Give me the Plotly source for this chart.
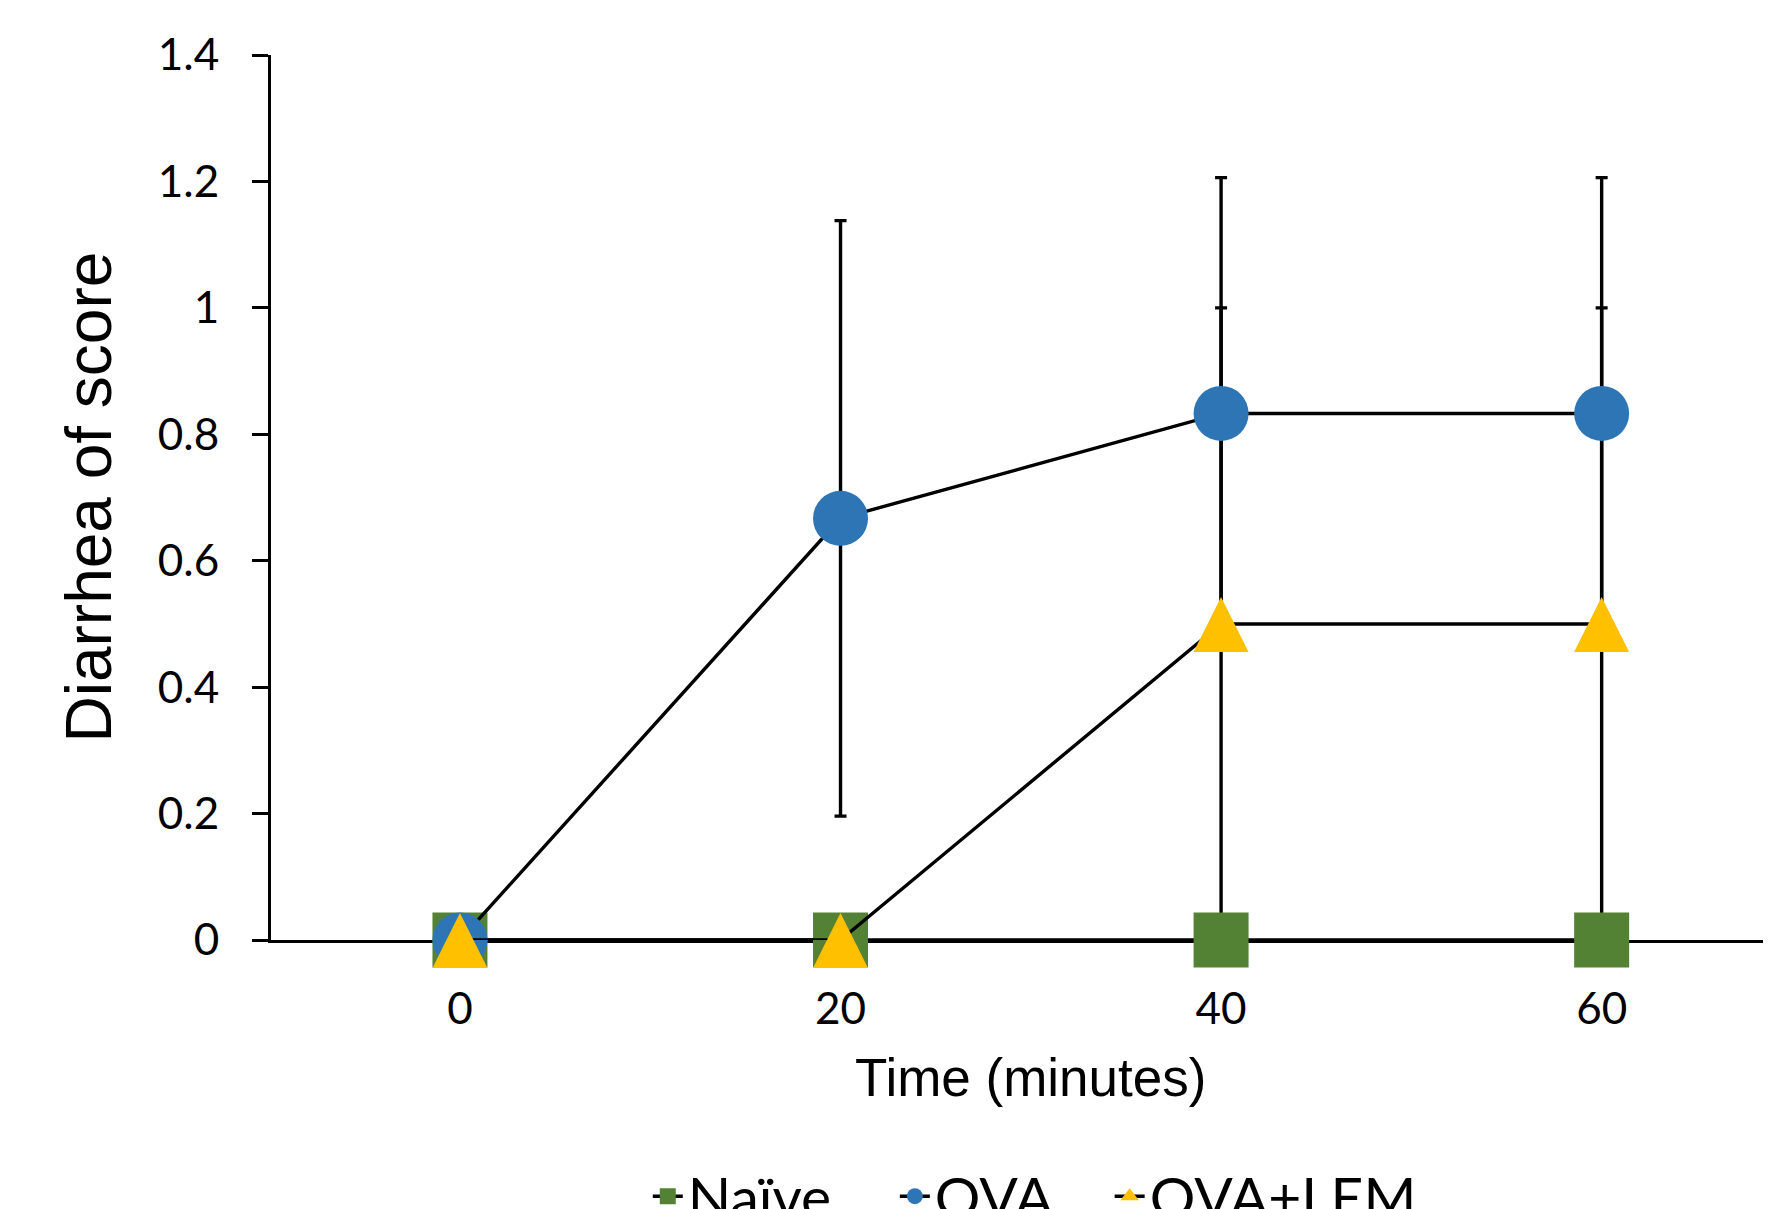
import plotly.graph_objects as go

# ---- data ----
time_min = [0, 20, 40, 60]
naive = [0, 0, 0, 0]
ova = [0, 0.667, 0.833, 0.833]
ova_err = [0, 0.471, 0.373, 0.373]
ova_lem = [0, 0, 0.5, 0.5]
ova_lem_err = [0, 0, 0.5, 0.5]

series_names = ["Naïve", "OVA", "OVA+LEM"]
x_tick_vals = [0, 20, 40, 60]
x_tick_labels = ["0", "20", "40", "60"]
y_tick_vals = [0, 0.2, 0.4, 0.6, 0.8, 1.0, 1.2, 1.4]
y_tick_labels = ["0", "0.2", "0.4", "0.6", "0.8", "1", "1.2", "1.4"]

GREEN = "#548235"
BLUE = "#2E75B6"
YELLOW = "#FFC000"

fig = go.Figure()

# error bars first so every marker sits above them
for vals, errs in [(ova, ova_err), (ova_lem, ova_lem_err)]:
    fig.add_trace(go.Scatter(
        x=time_min, y=vals, mode="markers",
        marker=dict(size=1, color="rgba(0,0,0,0)"),
        error_y=dict(type="data", array=errs, visible=True,
                     color="black", thickness=3.4, width=6),
        showlegend=False, hoverinfo="skip", cliponaxis=False,
    ))

fig.add_trace(go.Scatter(
    x=time_min, y=naive, name=series_names[0], mode="lines+markers",
    line=dict(color="black", width=3.4),
    marker=dict(symbol="square", size=55, color=GREEN, line=dict(width=0)),
    cliponaxis=False, legend="legend",
))
fig.add_trace(go.Scatter(
    x=time_min, y=ova, name=series_names[1], mode="lines+markers",
    line=dict(color="black", width=3.4),
    marker=dict(symbol="circle", size=55, color=BLUE, line=dict(width=0)),
    cliponaxis=False, legend="legend2",
))
# line + legend entry for OVA+LEM (small triangles are covered by the big ones below)
fig.add_trace(go.Scatter(
    x=time_min, y=ova_lem, name=series_names[2], mode="lines+markers",
    line=dict(color="black", width=3.4),
    marker=dict(symbol="triangle-up", size=30, color=YELLOW, line=dict(width=0)),
    cliponaxis=False, legend="legend3",
))
# tall centred triangles, as in the reference
fig.add_trace(go.Scatter(
    x=time_min, y=ova_lem, name=series_names[2], mode="markers",
    marker=dict(symbol="arrow-down", angle=180, standoff=27, size=55,
                color=YELLOW, line=dict(width=0)),
    cliponaxis=False, showlegend=False, hoverinfo="skip",
))

leg_common = dict(orientation="h", xanchor="left", y=-0.29, yanchor="middle",
                  font=dict(family="Lato", size=57, color="black"),
                  bgcolor="rgba(0,0,0,0)", borderwidth=0)

fig.update_layout(
    width=1763, height=1201,
    margin=dict(l=262.5, r=0, t=47, b=268.5, autoexpand=False),
    paper_bgcolor="white", plot_bgcolor="white",
    font=dict(family="Lato", color="black"),
    showlegend=True,
    legend=dict(x=0.2512, **leg_common),
    legend2=dict(x=0.4159, **leg_common),
    legend3=dict(x=0.5591, **leg_common),
    xaxis=dict(
        range=[-9.93, 68.9], tickvals=x_tick_vals, ticktext=x_tick_labels,
        showgrid=False, zeroline=False, showline=True, linecolor="black",
        linewidth=3, ticks="", tickfont=dict(family="Lato", size=44, color="black"),
        ticklabelstandoff=28, layer="below traces",
    ),
    yaxis=dict(
        range=[0, 1.4], tickvals=y_tick_vals, ticktext=y_tick_labels,
        showgrid=False, zeroline=False, showline=True, linecolor="black",
        linewidth=3, ticks="outside", ticklen=16, tickwidth=3, tickcolor="black",
        tickfont=dict(family="Lato", size=44, color="black"),
        ticklabelstandoff=24, layer="below traces",
    ),
    annotations=[
        dict(text="Time (minutes)", xref="x", yref="paper", x=30, y=0,
             yshift=-137, xanchor="center", yanchor="middle", showarrow=False,
             font=dict(family="Liberation Sans", size=53, color="black")),
        dict(text="Diarrhea of score", xref="paper", yref="paper", x=0, y=0.5,
             xshift=-183, xanchor="center", yanchor="middle", textangle=-90,
             showarrow=False,
             font=dict(family="Liberation Sans", size=64, color="black")),
    ],
)

fig.write_html("out.html")
